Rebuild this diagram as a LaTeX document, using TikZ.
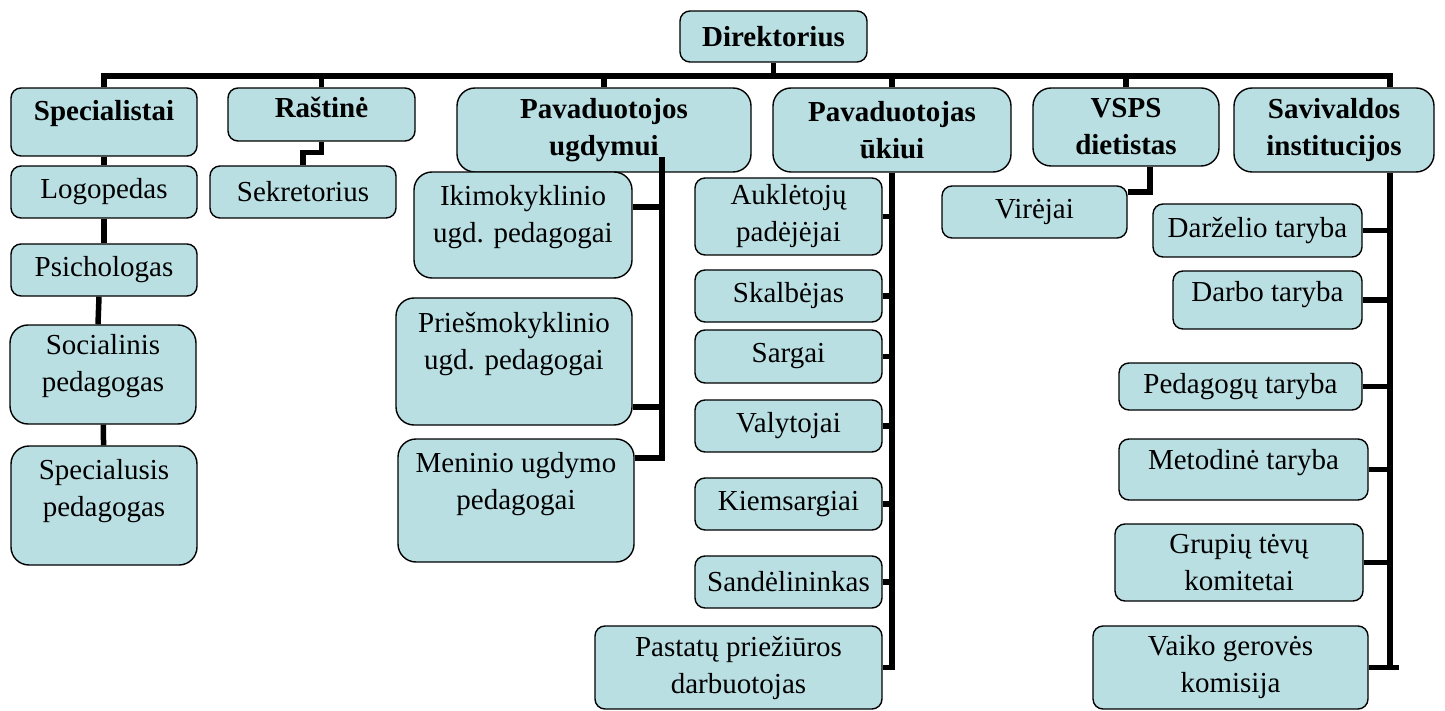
\documentclass[tikz,border=0pt]{standalone}
\usepackage{fontspec}
\setmainfont{Liberation Serif}
\definecolor{boxblue}{RGB}{185,223,227}
\tikzset{
  box/.style={draw, line width=0.7pt, fill=boxblue, rounded corners=5pt, align=center, inner sep=2pt, font=\fontsize{14.5pt}{18.5pt}\selectfont},
  head/.style={box, font=\fontsize{14.5pt}{18.5pt}\selectfont\bfseries},
  big/.style={rounded corners=9pt},
  lift/.style={text depth=#1},
  link/.style={line width=2.75pt}
}
\begin{document}
\begin{tikzpicture}[x=0.5pt, y=-0.5pt]
\useasboundingbox (0,0) rectangle (1445,711);

\node[head, minimum width=93.5pt, minimum height=25.5pt] (dir) at (773.5,36.5) {Direktorius};
\node[head, lift=12pt, minimum width=93pt, minimum height=34pt] (spec) at (104,122) {Specialistai};
\node[head, lift=7pt, minimum width=93.5pt, minimum height=26.5pt] (rast) at (321.5,114.5) {Raštinė};
\node[head, big, minimum width=147pt, minimum height=42pt] (ugd) at (604,130) {Pavaduotojos\\ugdymui};
\node[head, big, minimum width=119pt, minimum height=42pt] (ukis) at (892,130) {Pavaduotojas\\ūkiui};
\node[head, big, minimum width=93pt, minimum height=39pt] (vsps) at (1126,127) {VSPS\\dietistas};
\node[head, big, minimum width=100pt, minimum height=42pt] (sav) at (1334,130) {Savivaldos\\institucijos};

\node[box, minimum width=93pt, minimum height=26pt] (logo) at (104,192) {Logopedas};
\node[box, minimum width=93pt, minimum height=26pt] (psich) at (104,270) {Psichologas};
\node[box, big, lift=12pt, minimum width=93pt, minimum height=49.5pt] (soci) at (103,374.5) {Socialinis\\pedagogas};
\node[box, big, lift=18pt, minimum width=93pt, minimum height=59.5pt] (spcl) at (104,505.5) {Specialusis\\pedagogas};

\node[box, minimum width=93pt, minimum height=26pt] (sekr) at (303,192) {Sekretorius};

\node[box, big, lift=11pt, minimum width=109pt, minimum height=53pt] (ikim) at (523,225) {Ikimokyklinio\\ugd. pedagogai};
\node[box, big, lift=21pt, minimum width=118pt, minimum height=63.5pt] (prie) at (514,361.5) {Priešmokyklinio\\ugd. pedagogai};
\node[box, big, lift=20pt, minimum width=118pt, minimum height=61.5pt] (meni) at (516,500.5) {Meninio ugdymo\\pedagogai};

\node[box, minimum width=93.5pt, minimum height=38.5pt] (aukl) at (788.5,216.5) {Auklėtojų\\padėjėjai};
\node[box, minimum width=93.5pt, minimum height=26pt] (skal) at (788.5,296) {Skalbėjas};
\node[box, minimum width=93.5pt, minimum height=26.5pt] (sarg) at (788.5,356.5) {Sargai};
\node[box, minimum width=93.5pt, minimum height=26pt] (valy) at (788.5,426) {Valytojai};
\node[box, minimum width=93.5pt, minimum height=26pt] (kiem) at (788.5,504) {Kiemsargiai};
\node[box, minimum width=93.5pt, minimum height=26pt] (sand) at (788.5,582) {Sandėlininkas};
\node[box, minimum width=143.5pt, minimum height=41.5pt] (past) at (738.5,667.5) {Pastatų priežiūros\\darbuotojas};

\node[box, minimum width=92.5pt, minimum height=26pt] (vire) at (1034.5,212) {Virėjai};

\node[box, minimum width=104.5pt, minimum height=26.5pt] (darz) at (1257.5,230.5) {Darželio taryba};
\node[box, lift=9pt, minimum width=94.5pt, minimum height=29pt] (darb) at (1267.5,300) {Darbo taryba};
\node[box, minimum width=121.5pt, minimum height=23.5pt] (peda) at (1240.5,386.5) {Pedagogų taryba};
\node[box, lift=10pt, minimum width=124.5pt, minimum height=30.5pt] (meto) at (1243.5,469.5) {Metodinė taryba};
\node[box, minimum width=124pt, minimum height=38.5pt] (grup) at (1239,562.5) {Grupių tėvų\\komitetai};
\node[box, minimum width=137.5pt, minimum height=41.5pt] (vaik) at (1230.5,667.5) {Vaiko gerovės\\komisija};

\coordinate (busR) at (1390,76);
\coordinate (ugdtr) at (662,157);
\coordinate (savtr) at (busR |- sav.south);

\draw[link] (spec.north) |- (busR) -- (busR |- sav.north);
\draw[link] (dir.south) -- (dir.south |- busR);
\foreach \n in {rast,ugd,ukis,vsps}
  \draw[link] (\n.north) -- (\n.north |- busR);

\draw[link] (spec) -- (logo);
\draw[link] (logo) -- (psich);
\draw[link] ([xshift=-2.5pt]psich.south) -- ([xshift=-2.5pt]soci.north);
\draw[link] (soci) -- (spcl);

\draw[link] (rast.south) -- ++(0,11) -| (sekr.north);

\draw[link] (ugdtr) |- ([yshift=21.25pt]meni.east);
\draw[link] ([yshift=9pt]ikim.east) -| (ugdtr);
\draw[link] ([yshift=-22.75pt]prie.east) -| (ugdtr);

\draw[link] (ukis.south) |- (past.east);
\foreach \n in {aukl,skal,sarg,valy,kiem,sand}
  \draw[link] (\n.east) -| (ukis.south);

\draw[link] ([xshift=12pt]vsps.south) |- ([yshift=10pt]vire.east);

\draw[link] (savtr) |- (vaik.east);
\draw[link] (vaik.east) -- ++(30,0);
\foreach \n in {darz,darb,peda,meto,grup}
  \draw[link] (\n.east) -| (savtr);
\end{tikzpicture}
\end{document}
